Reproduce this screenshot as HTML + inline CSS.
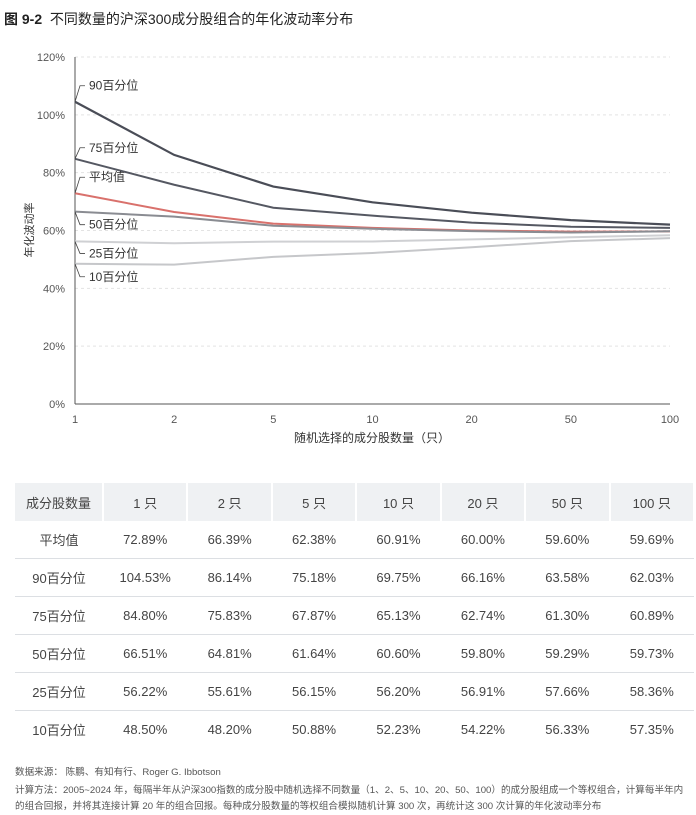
<!DOCTYPE html>
<html><head><meta charset="utf-8"><style>
body{margin:0;width:696px;height:815px;background:#fff;font-family:"Liberation Sans","Noto Sans CJK SC",sans-serif;color:#333;position:relative;overflow:hidden}
.t{position:absolute;white-space:nowrap}
table{position:absolute;left:15px;top:483px;width:680px;border-collapse:collapse;font-size:13px;color:#444;table-layout:fixed}
td{text-align:center;height:37px;padding:0;border-bottom:1px solid #dcdfe3}
tr.h td{background:#eff1f3;border-right:2px solid #fff;border-bottom:none;height:38px}
tr:last-child td{border-bottom:none}
.f{font-size:9.6px;color:#555}
</style></head><body>
<div class="t" style="left:4px;top:9px;font-size:14px;color:#222"><b>图 9-2</b>&nbsp;&nbsp;不同数量的沪深300成分股组合的年化波动率分布</div>
<svg id="chart" width="696" height="460" style="position:absolute;left:0;top:0"></svg>
<table>
<colgroup><col style="width:88px"><col><col><col><col><col><col><col></colgroup>
<tr class="h"><td>成分股数量</td><td>1 只</td><td>2 只</td><td>5 只</td><td>10 只</td><td>20 只</td><td>50 只</td><td>100 只</td></tr>
<tr><td>平均值</td><td>72.89%</td><td>66.39%</td><td>62.38%</td><td>60.91%</td><td>60.00%</td><td>59.60%</td><td>59.69%</td></tr>
<tr><td>90百分位</td><td>104.53%</td><td>86.14%</td><td>75.18%</td><td>69.75%</td><td>66.16%</td><td>63.58%</td><td>62.03%</td></tr>
<tr><td>75百分位</td><td>84.80%</td><td>75.83%</td><td>67.87%</td><td>65.13%</td><td>62.74%</td><td>61.30%</td><td>60.89%</td></tr>
<tr><td>50百分位</td><td>66.51%</td><td>64.81%</td><td>61.64%</td><td>60.60%</td><td>59.80%</td><td>59.29%</td><td>59.73%</td></tr>
<tr><td>25百分位</td><td>56.22%</td><td>55.61%</td><td>56.15%</td><td>56.20%</td><td>56.91%</td><td>57.66%</td><td>58.36%</td></tr>
<tr><td>10百分位</td><td>48.50%</td><td>48.20%</td><td>50.88%</td><td>52.23%</td><td>54.22%</td><td>56.33%</td><td>57.35%</td></tr>
</table>
<div class="t f" style="left:15px;top:764px">数据来源：&nbsp;陈鹏、有知有行、Roger G. Ibbotson</div>
<div class="t f" style="left:15px;top:782px">计算方法：2005~2024 年，每隔半年从沪深300指数的成分股中随机选择不同数量（1、2、5、10、20、50、100）的成分股组成一个等权组合，计算每半年内</div>
<div class="t f" style="left:15px;top:798px">的组合回报，并将其连接计算 20 年的组合回报。每种成分股数量的等权组合模拟随机计算 300 次，再统计这 300 次计算的年化波动率分布</div>
<script>
const categories=["1","2","5","10","20","50","100"];
const yTicks=[0,20,40,60,80,100,120];
const seriesNames=["90百分位","75百分位","平均值","50百分位","25百分位","10百分位"];
const p90=[104.53,86.14,75.18,69.75,66.16,63.58,62.03];
const p75=[84.80,75.83,67.87,65.13,62.74,61.30,60.89];
const mean=[72.89,66.39,62.38,60.91,60.00,59.60,59.69];
const p50=[66.51,64.81,61.64,60.60,59.80,59.29,59.73];
const p25=[56.22,55.61,56.15,56.20,56.91,57.66,58.36];
const p10=[48.50,48.20,50.88,52.23,54.22,56.33,57.35];
const svg=document.getElementById('chart');const NS='http://www.w3.org/2000/svg';
const X0=75,X1=670,Y0=404,Y1=57;
const x=i=>X0+i*(X1-X0)/(categories.length-1);
const y=v=>Y0-(v/120)*(Y0-Y1);
function mk(t,a,txt){const e=document.createElementNS(NS,t);for(const k in a)e.setAttribute(k,a[k]);if(txt!=null)e.textContent=txt;svg.appendChild(e);return e;}
yTicks.forEach(v=>{
 if(v>0){const g=mk('line',{x1:X0,x2:X1,y1:y(v),y2:y(v),stroke:'#e3e3e3','stroke-dasharray':'3,3'});
 
 }
 const t=mk('text',{x:X0-10,y:y(v)+4,'text-anchor':'end','font-size':11,fill:'#555'},v+'%');
 
 
});
categories.forEach((c,i)=>{
 const t=mk('text',{x:x(i),y:Y0+19,'text-anchor':'middle','font-size':11,fill:'#555'},c);
 
 
});
mk('line',{x1:X0,x2:X0,y1:Y1,y2:Y0,stroke:'#555'});
mk('line',{x1:X0,x2:X1,y1:Y0,y2:Y0,stroke:'#555'});
const ya=mk('text',{x:33,y:230,'text-anchor':'middle','font-size':11,fill:'#333',transform:'rotate(-90 33 230)'},'年化波动率');


const xa=mk('text',{x:372,y:442,'text-anchor':'middle','font-size':12,fill:'#333'},'随机选择的成分股数量（只）');


const data=[p90,p75,mean,p50,p25,p10];
const colors=['#4a4d57','#555862','#d9716c','#8a8c92','#cfd0d3','#c6c7ca'];
const widths=[2.2,2,2,2,2,2];
const labelDy=[-16,-11,-16,13,12,13];
data.forEach((d,s)=>{
 const pl=mk('polyline',{points:d.map((v,i)=>x(i)+','+y(v)).join(' '),fill:'none',stroke:colors[s],'stroke-width':widths[s]});
 
 
 const y0=y(d[0]),ly=y0+labelDy[s];
 mk('polyline',{points:`${X0},${y0} ${X0+5},${ly} ${X0+10},${ly}`,fill:'none',stroke:'#444','stroke-width':0.8});
 const t=mk('text',{x:X0+14,y:ly+4,'font-size':12,fill:'#333'},seriesNames[s]);
 
 
});
</script>
</body></html>
